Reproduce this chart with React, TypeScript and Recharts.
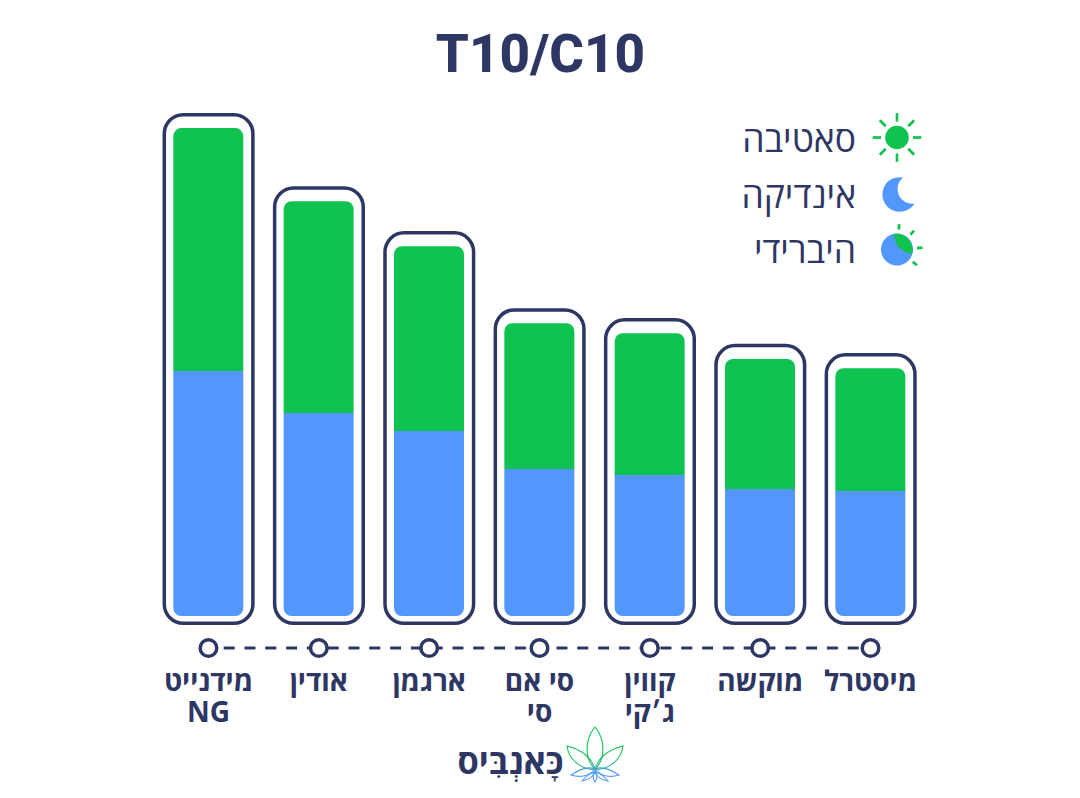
import React from 'react';
import { Bar, ComposedChart, Legend, Line, XAxis, YAxis } from 'recharts';

const categories = ['מידנייט\nNG', 'אודין', 'ארגמן', 'סי אם\nסי', 'קווין\nג׳קי', 'מוקשה', 'מיסטרל'];
const indicaValues = [10.08, 8.35, 7.61, 6.05, 5.8, 5.23, 5.14];
const sativaValues = [10, 8.72, 7.61, 6, 5.84, 5.35, 5.06];
const legendLabels = ['סאטיבה', 'אינדיקה', 'היברידי'];
const titleText = 'T10/C10';
const brandText = 'כָּאנְבִּיס';
const axisLevel = -1.317;

const NAVY = '#2e3663';
const GREEN = '#10c250';
const BLUE = '#5297ff';
const FONT = '"Open Sans", Roboto, sans-serif';

const data = categories.map((name, i) => ({
  name,
  indica: indicaValues[i],
  sativa: sativaValues[i],
  total: indicaValues[i] + sativaValues[i],
  level: axisLevel,
}));

const Outline = (props: any) => {
  const { x, y, width, height } = props;
  return (
    <rect x={x} y={y - 13.3} width={width} height={height + 13.3 + 7.3} rx={19} ry={19}
      fill="none" stroke={NAVY} strokeWidth={3.5} />
  );
};

const CategoryTick = (props: any) => {
  const { x, payload } = props;
  const lines = String(payload.value).split('\n');
  return (
    <text x={x} textAnchor="middle" fill={NAVY} fontFamily={FONT} fontWeight={700} fontSize={28}>
      {lines.map((line: string, i: number) => (
        <tspan key={line} x={x} y={691 + i * 31}>{line}</tspan>
      ))}
    </text>
  );
};

const Ray = ({ a, r0, r1, cx, cy }: any) => {
  const t = (a * Math.PI) / 180;
  return (
    <line x1={cx + r0 * Math.cos(t)} y1={cy + r0 * Math.sin(t)} x2={cx + r1 * Math.cos(t)} y2={cy + r1 * Math.sin(t)}
      stroke={GREEN} strokeWidth={2.7} />
  );
};

const SunIcon = () => (
  <g>
    <circle cx={27} cy={26.5} r={11.8} fill={GREEN} />
    {[0, 45, 90, 135, 180, 225, 270, 315].map((a) => (
      <Ray key={a} a={a} r0={16} r1={24.3} cx={27} cy={26.5} />
    ))}
  </g>
);
const MoonIcon = () => (
  <path d="M33 10.5 A17.3 17.3 0 1 0 44.5 36.5 A14.7 14.7 0 0 1 33 10.5 Z" fill={BLUE} />
);
const HybridIcon = () => (
  <g>
    <circle cx={27} cy={27.5} r={16} fill={BLUE} />
    <path d="M24 12 A16 16 0 0 1 42 32 A20 20 0 0 1 24 12 Z" fill={GREEN} />
    {[-85, -48, -4, 38].map((a) => (
      <Ray key={a} a={a} r0={20} r1={25.5} cx={27} cy={27.5} />
    ))}
  </g>
);
const icons = [SunIcon, MoonIcon, HybridIcon];

const LegendContent = () => (
  <div style={{ position: 'relative', width: 230, height: 165 }}>
    {legendLabels.map((label, i) => {
      const Icon = icons[i];
      return (
        <div key={label} style={{ position: 'absolute', top: i * 55.5, left: 0, width: 230, height: 54 }}>
          <div dir="rtl" style={{ position: 'absolute', right: 74, top: 0, lineHeight: '54px', fontFamily: FONT, fontSize: 35.5, color: NAVY, whiteSpace: 'nowrap' }}>
            {label}
          </div>
          <svg width={54} height={54} style={{ position: 'absolute', left: 170, top: 0 }}>
            <Icon />
          </svg>
        </div>
      );
    })}
  </div>
);

const Logo = () => (
  <g>
    <defs>
      <linearGradient id="leaf" gradientUnits="userSpaceOnUse" x1="0" y1="727" x2="0" y2="782">
        <stop offset="0.6" stopColor={GREEN} />
        <stop offset="0.85" stopColor={BLUE} />
      </linearGradient>
    </defs>
    <g fill="none" stroke="url(#leaf)" strokeWidth={1.1}>
      <path d="M595 727 C584 740 585 760 595 769 C605 760 606 740 595 727 Z" />
      <path d="M623 746 C606 750 597 760 595 770 C607 769 621 762 623 746 Z" />
      <path d="M567 746 C584 750 593 760 595 770 C583 769 569 762 567 746 Z" />
      <path d="M619 775 C610 769 602 766 595 769 C600 776 610 778 619 775 Z" />
      <path d="M571 775 C580 769 588 766 595 769 C590 776 580 778 571 775 Z" />
      <path d="M608 781 C604 776 599 773 595 772 C596 776 601 780 608 781 Z" />
      <path d="M582 781 C586 776 591 773 595 772 C594 776 589 780 582 781 Z" />
      <path d="M595 782 C592 778 593 773 595 771 C597 773 598 778 595 782 Z" />
    </g>
  </g>
);

export default function App() {
  return (
    <div style={{ position: 'absolute', left: 0, top: 0, width: 1080, height: 798, background: '#fff' }}>
      <ComposedChart width={1080} height={798} data={data}
        margin={{ top: 105.7, right: 154.3, bottom: 33.4, left: 153.3 }}>
        <XAxis dataKey="name" interval={0} height={100} axisLine={false} tickLine={false} tick={<CategoryTick />} />
        <XAxis xAxisId="outline" dataKey="name" hide />
        <YAxis hide domain={[-2, 21]} />
        <Legend layout="horizontal" align="center" verticalAlign="middle" content={<LegendContent />}
          wrapperStyle={{ left: 700, top: 111, width: 230, height: 165 }} />
        <Bar xAxisId="outline" dataKey="total" barSize={88.6} shape={<Outline />} isAnimationActive={false} legendType="none" />
        <Bar dataKey="indica" stackId="a" barSize={70} fill={BLUE} radius={[0, 0, 8, 8]} isAnimationActive={false} />
        <Bar dataKey="sativa" stackId="a" barSize={70} fill={GREEN} radius={[8, 8, 0, 0]} isAnimationActive={false} />
        <Line dataKey="level" stroke={NAVY} strokeWidth={3} strokeDasharray="11 9.8" strokeDashoffset={5.6}
          dot={{ r: 8.3, fill: '#fff', stroke: NAVY, strokeWidth: 3.5, strokeDasharray: 'none' }}
          activeDot={false} isAnimationActive={false} legendType="none" />
        <text x={540.5} y={72} textAnchor="middle" fill={NAVY} fontFamily="Roboto, sans-serif" fontWeight={800} fontSize={53}>{titleText}</text>
        <text x={510.5} y={774} textAnchor="middle" fill={NAVY} fontFamily={FONT} fontWeight={700} fontSize={34.5} direction="rtl">{brandText}</text>
        <Logo />
      </ComposedChart>
    </div>
  );
}
